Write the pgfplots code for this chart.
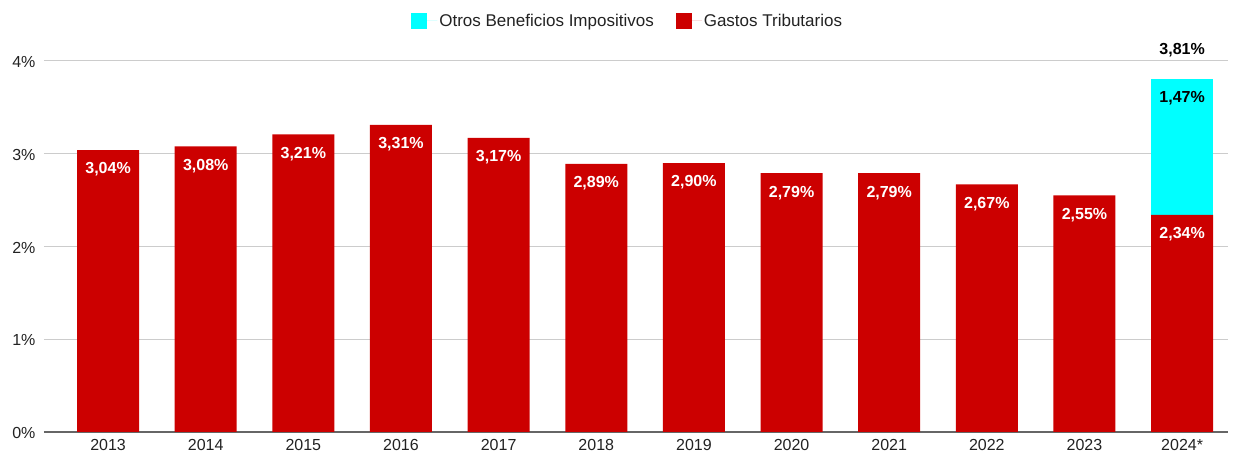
\documentclass[border=0pt]{standalone}
\usepackage{pgfplots}
\pgfplotsset{compat=1.18}
\usepackage{fontspec}
\setmainfont{Liberation Sans}
\definecolor{gasto}{HTML}{CC0000}
\definecolor{otros}{HTML}{00FFFF}
\definecolor{ticktxt}{HTML}{222222}

% year index, Gastos Tributarios (% PIB)
\pgfplotstableread{
x  gt
0  3.04
1  3.08
2  3.21
3  3.31
4  3.17
5  2.89
6  2.90
7  2.79
8  2.79
9  2.67
10 2.55
11 2.34
}\gastos

% Otros Beneficios Impositivos: bar drawn up to the total, label is the increment
\pgfplotstableread{
x  tot  ob
11 3.81 1.47
}\otros

\pgfkeys{/pgf/number format/.cd, assume math mode=true}

\begin{document}
\begin{tikzpicture}
\begin{axis}[
  name=ax,
  scale only axis,
  width=1184pt, height=371pt,
  xmin=-0.656, xmax=11.47,
  ymin=0, ymax=4,
  clip=false,
  xtick={0,...,11},
  xticklabels={2013,2014,2015,2016,2017,2018,2019,2020,2021,2022,2023,2024*},
  ytick={0,1,2,3,4},
  yticklabels={0\%,1\%,2\%,3\%,4\%},
  major tick length=0pt,
  tick label style={font=\fontsize{16}{19}\selectfont, text=ticktxt},
  xticklabel style={yshift=-4pt},
  yticklabel style={xshift=-5pt, yshift=-1pt},
  ymajorgrids,
  grid style={draw=black!20, line width=1pt},
  axis x line*=bottom,
  axis y line*=left,
  y axis line style={draw=none},
  x axis line style={draw=black!60, line width=1.2pt},
  legend columns=2,
  legend style={
    draw=none, fill=none,
    at={(axis description cs:0.493,1)}, anchor=center, yshift=40pt,
    font=\fontsize{17}{20}\selectfont, text=ticktxt,
    /tikz/every even column/.append style={column sep=20pt},
  },
  legend image code/.code={\fill[#1] (0pt,-8pt) rectangle (16pt,8pt); \path (0pt,0pt) -- (26pt,0pt);},
  every node near coord/.append style={font=\fontsize{16}{19}\selectfont\bfseries},
]
\addplot[ybar, bar width=62pt, bar shift=0pt, fill=otros, draw=none,
  point meta=explicit,
  nodes near coords={\pgfmathprintnumber[use comma,fixed,fixed zerofill,precision=2]{\pgfplotspointmeta}\%},
  every node near coord/.append style={anchor=center, yshift=-20pt, text=black}]
  table[x=x, y=tot, meta=ob] {\otros};
\addlegendentry{Otros Beneficios Impositivos}

\addplot[ybar, bar width=62pt, bar shift=0pt, fill=gasto, draw=none,
  point meta=explicit,
  nodes near coords={\pgfmathprintnumber[use comma,fixed,fixed zerofill,precision=2]{\pgfplotspointmeta}\%},
  every node near coord/.append style={anchor=center, yshift=-19.5pt, text=white}]
  table[x=x, y=gt, meta=gt] {\gastos};
\addlegendentry{Gastos Tributarios}

\addplot[draw=none, mark=none, forget plot,
  point meta=explicit,
  nodes near coords={\pgfmathprintnumber[use comma,fixed,fixed zerofill,precision=2]{\pgfplotspointmeta}\%},
  every node near coord/.append style={anchor=center, yshift=28pt, text=black}]
  table[x=x, y=tot, meta=tot] {\otros};
\end{axis}
\pgfresetboundingbox
\path ([xshift=-44pt,yshift=-25pt]ax.south west) rectangle ([xshift=8pt,yshift=61pt]ax.north east);
\end{tikzpicture}
\end{document}
